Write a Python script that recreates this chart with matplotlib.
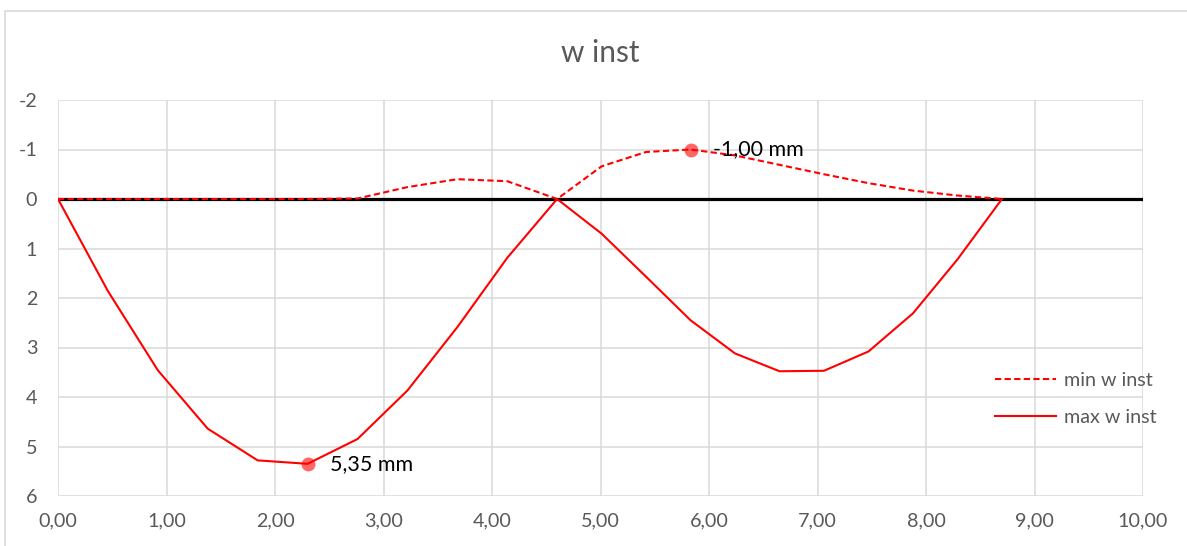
import matplotlib.pyplot as plt
from matplotlib.patches import Rectangle

plt.rcParams['font.family'] = ['Lato', 'DejaVu Sans']

# positions along the beam (m)
x_pos = [0.00, 0.46, 0.92, 1.38, 1.84, 2.30, 2.76, 3.22, 3.68, 4.14, 4.60,
         5.01, 5.42, 5.83, 6.24, 6.65, 7.06, 7.47, 7.88, 8.29, 8.70]

# deflections (mm)
min_w = [0.00, 0.00, 0.00, 0.00, 0.00, 0.00, -0.01, -0.24, -0.40, -0.36, 0.00,
         -0.66, -0.95, -1.00, -0.88, -0.69, -0.50, -0.32, -0.17, -0.07, 0.00]
max_w = [0.00, 1.86, 3.46, 4.64, 5.28, 5.35, 4.85, 3.87, 2.59, 1.19, 0.00,
         0.70, 1.57, 2.45, 3.12, 3.48, 3.47, 3.08, 2.31, 1.22, 0.00]

extremes_x = [2.30, 5.83]
extremes_y = [5.35, -1.00]
extremes_txt = ["5,35 mm", "-1,00 mm"]

x_ticks = [0, 1, 2, 3, 4, 5, 6, 7, 8, 9, 10]
y_ticks = [-2, -1, 0, 1, 2, 3, 4, 5, 6]

grey = "#595959"

fig = plt.figure(figsize=(11.87, 5.46), dpi=100)
ax = fig.add_axes([58 / 1187, 1 - 496 / 546, (1143 - 58) / 1187, (496 - 100) / 546])

# chart frame
fig.patches.append(Rectangle((5 / 1187, -0.1), 1.2, 1 - 11 / 546 + 0.1,
                             transform=fig.transFigure, fill=False,
                             edgecolor="#d9d9d9", linewidth=1.2))

ax.plot([0, 10], [0, 0], color="black", linewidth=2.3, zorder=2)
ax.plot(x_pos, min_w, color="red", linewidth=1.5, linestyle=(0, (3, 1.6)),
        label="min w inst", zorder=3)
ax.plot(x_pos, max_w, color="red", linewidth=1.5, label="max w inst", zorder=3)

ax.plot(extremes_x, extremes_y, "o", color="red", alpha=0.6, markersize=10,
        markeredgewidth=0, zorder=4)
for xx, yy, t in zip(extremes_x, extremes_y, extremes_txt):
    ax.annotate(t, (xx, yy), xytext=(16, 0), textcoords="offset points",
                va="center", ha="left", fontsize=15.5, color="black", zorder=5)

ax.set_xlim(0, 10)
ax.set_ylim(6, -2)
ax.set_xticks(x_ticks)
ax.set_xticklabels([f"{v:.2f}".replace(".", ",") for v in x_ticks])
ax.set_yticks(y_ticks)
ax.set_yticklabels([str(v) for v in y_ticks])
ax.tick_params(length=0, labelsize=14.2, labelcolor=grey)
ax.tick_params(axis="x", pad=12)
ax.tick_params(axis="y", pad=15)
ax.grid(True, color="#d9d9d9", linewidth=1.1, zorder=0)
ax.set_axisbelow(True)
for s in ax.spines.values():
    s.set_visible(False)

ax.set_title("w inst", fontsize=21.5, color=grey, pad=27)

ax.legend(loc="center left", bbox_to_anchor=(0.847, 0.245), frameon=False,
          fontsize=14.2, labelcolor=grey, handlelength=3.1, handletextpad=0.4,
          labelspacing=1.05)

fig.savefig("out.png", dpi=100)
